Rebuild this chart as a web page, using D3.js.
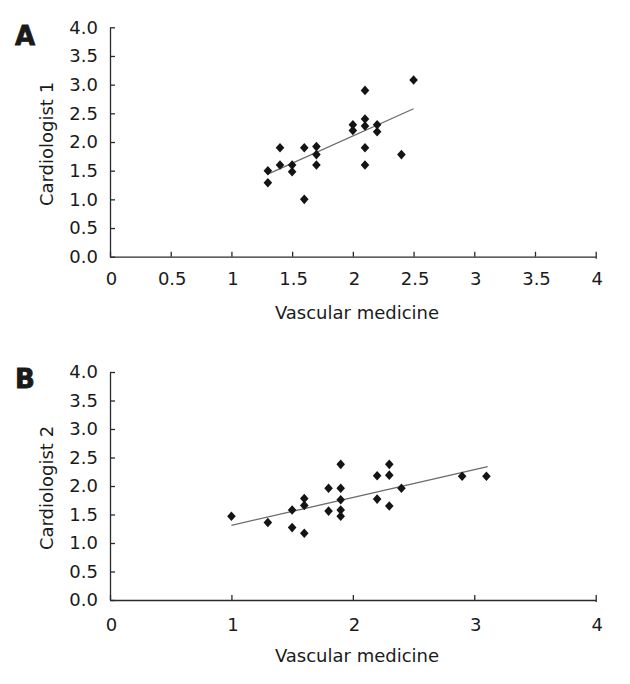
<!DOCTYPE html>
<html><head><meta charset="utf-8">
<script src="https://cdn.jsdelivr.net/npm/d3@7"></script>
<style>body{margin:0;background:#fff}svg{display:block}text{font-family:"DejaVu Sans",Verdana,sans-serif;fill:#1a1a1a}</style>
</head><body>
<script>
// Panel A data
const vascA = [1.3,1.3,1.4,1.4,1.5,1.5,1.6,1.6,1.7,1.7,1.7,2.0,2.0,2.1,2.1,2.1,2.1,2.1,2.2,2.2,2.4,2.5];
const cardA = [1.5,1.29,1.9,1.6,1.6,1.48,1.9,1.0,1.92,1.78,1.6,2.3,2.2,2.9,2.4,2.28,1.9,1.6,2.3,2.18,1.78,3.08];
const trendA = [[1.3,1.44],[2.5,2.58]];
// Panel B data
const vascB = [1.0,1.3,1.5,1.5,1.6,1.6,1.6,1.8,1.8,1.9,1.9,1.9,1.9,1.9,2.2,2.2,2.3,2.3,2.3,2.4,2.9,3.1];
const cardB = [1.47,1.36,1.58,1.27,1.78,1.66,1.17,1.96,1.56,2.38,1.96,1.76,1.58,1.47,2.18,1.77,2.38,2.19,1.65,1.96,2.17,2.17];
const trendB = [[1.0,1.31],[3.11,2.34]];
// Axes
const yTicks = [0,0.5,1,1.5,2,2.5,3,3.5,4];
const xTicksA = [0,0.5,1,1.5,2,2.5,3,3.5,4];
const xTicksB = [0,1,2,3,4];

const W = 630, H = 684;
const svg = d3.select("body").append("svg").attr("width", W).attr("height", H);

const panels = [
  {label:"A", ytitle:"Cardiologist 1", xs:vascA, ys:cardA, trend:trendA, xt:xTicksA, top:27.3, bottom:256.7, labTop:26, xlabOff:16},
  {label:"B", ytitle:"Cardiologist 2", xs:vascB, ys:cardB, trend:trendB, xt:xTicksB, top:372, bottom:600, labTop:369, xlabOff:18}
];
const diamond = "M0,-4.8L4.3,0L0,4.8L-4.3,0Z";

panels.forEach(p => {
  const x = d3.scaleLinear().domain([0,4]).range([110,595.7]);
  const y = d3.scaleLinear().domain([0,4]).range([p.bottom,p.top]);
  const g = svg.append("g");

  // x axis
  const xa = g.append("g").attr("transform",`translate(0,${p.bottom})`)
    .call(d3.axisBottom(x).tickValues(p.xt).tickFormat(d=>String(d)).tickSizeInner(-5).tickSizeOuter(0).tickPadding(p.xlabOff));
  xa.select(".domain").attr("stroke","#2a2a2a").attr("stroke-width",1.3);
  xa.selectAll(".tick line").attr("stroke","#2a2a2a").attr("stroke-width",1.3);
  xa.selectAll(".tick text").attr("font-size",18).attr("fill","#1a1a1a").attr("dx",1).attr("font-family","DejaVu Sans");
  xa.selectAll(".tick").filter(d=>d===4).select("line").attr("y2",-5).attr("y1",2);

  // y axis
  const ya = g.append("g").attr("transform","translate(110,0)")
    .call(d3.axisLeft(y).tickValues(yTicks).tickFormat(d3.format(".1f")).tickSizeInner(-5).tickSizeOuter(0).tickPadding(12));
  ya.select(".domain").attr("stroke","#2a2a2a").attr("stroke-width",1.3);
  ya.selectAll(".tick line").attr("stroke","#2a2a2a").attr("stroke-width",1.3);
  ya.selectAll(".tick text").attr("font-size",18).attr("fill","#1a1a1a").attr("font-family","DejaVu Sans");

  // trend line
  g.append("path").datum(p.trend)
    .attr("d", d3.line().x(d=>x(d[0])).y(d=>y(d[1])))
    .attr("fill","none").attr("stroke","#6b6b6b").attr("stroke-width",1.3);

  // points
  g.selectAll("path.pt").data(p.xs.map((v,i)=>[v,p.ys[i]])).join("path")
    .attr("class","pt").attr("d",diamond)
    .attr("transform",d=>`translate(${x(d[0])},${y(d[1])})`)
    .attr("fill","#141414");

  // axis titles
  g.append("text").attr("x",357).attr("y",p.bottom+62).attr("text-anchor","middle")
    .attr("font-size",18).text("Vascular medicine");
  g.append("text").attr("transform",`translate(52.5,${(p.top+p.bottom)/2+2}) rotate(-90)`)
    .attr("text-anchor","middle").attr("font-size",18).text(p.ytitle);

  // panel label
  g.append("text").attr("x",15).attr("y",p.labTop+19).attr("font-size",26).attr("font-weight","bold")
    .attr("stroke","#1a1a1a").attr("stroke-width",0.8)
    .text(p.label);
});
</script>
</body></html>
